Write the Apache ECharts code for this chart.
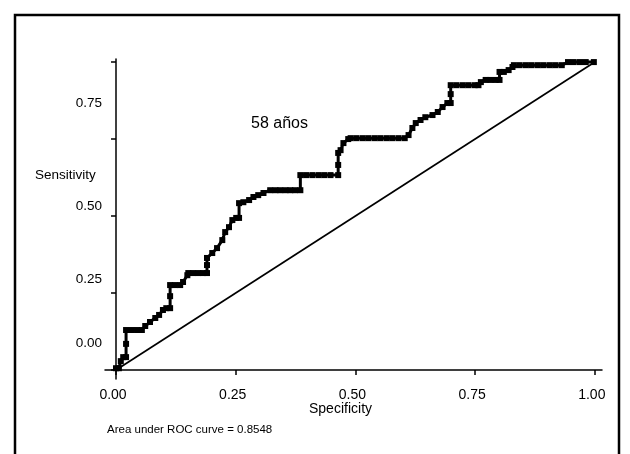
<!DOCTYPE html>
<html>
<head>
<meta charset="utf-8">
<script src="https://cdn.jsdelivr.net/npm/echarts@6/dist/echarts.min.js"></script>
<style>
  html, body {margin: 0; padding: 0; background: #fff;}
  #chart {width: 630px; height: 454px;}
</style>
</head>
<body>
<div id="chart"></div>
<script>
// ROC curve, 58 años
const rocSpec = [
    0.000, 0.006, 0.010, 0.015, 0.021, 0.021, 0.021, 0.033, 0.044, 0.054,
    0.061, 0.071, 0.082, 0.090, 0.098, 0.105, 0.113, 0.113, 0.113, 0.123,
    0.134, 0.140, 0.149, 0.151, 0.161, 0.172, 0.182, 0.190, 0.190, 0.190,
    0.201, 0.211, 0.222, 0.228, 0.236, 0.243, 0.251, 0.257, 0.257, 0.266,
    0.278, 0.287, 0.297, 0.308, 0.322, 0.333, 0.343, 0.354, 0.364, 0.374,
    0.385, 0.385, 0.397, 0.410, 0.423, 0.435, 0.448, 0.464, 0.464, 0.464,
    0.469, 0.475, 0.485, 0.490, 0.502, 0.515, 0.527, 0.540, 0.552, 0.565,
    0.577, 0.590, 0.603, 0.611, 0.619, 0.626, 0.636, 0.646, 0.661, 0.672,
    0.682, 0.692, 0.699, 0.699, 0.699, 0.711, 0.724, 0.736, 0.749, 0.757,
    0.762, 0.772, 0.782, 0.793, 0.801, 0.801, 0.810, 0.820, 0.828, 0.831,
    0.843, 0.856, 0.868, 0.881, 0.893, 0.906, 0.918, 0.931, 0.944, 0.956,
    0.969, 0.981, 0.998
];
const rocSens = [
    0.006, 0.006, 0.029, 0.042, 0.042, 0.085, 0.130, 0.130, 0.130, 0.130,
    0.143, 0.156, 0.169, 0.179, 0.195, 0.201, 0.201, 0.240, 0.276, 0.276,
    0.276, 0.286, 0.308, 0.315, 0.315, 0.315, 0.315, 0.315, 0.341, 0.364,
    0.380, 0.396, 0.422, 0.448, 0.464, 0.487, 0.494, 0.494, 0.542, 0.545,
    0.552, 0.562, 0.568, 0.575, 0.584, 0.584, 0.584, 0.584, 0.584, 0.584,
    0.584, 0.633, 0.633, 0.633, 0.633, 0.633, 0.633, 0.633, 0.666, 0.705,
    0.714, 0.737, 0.750, 0.753, 0.753, 0.753, 0.753, 0.753, 0.753, 0.753,
    0.753, 0.753, 0.753, 0.763, 0.786, 0.802, 0.812, 0.821, 0.828, 0.838,
    0.854, 0.867, 0.867, 0.896, 0.925, 0.925, 0.925, 0.925, 0.925, 0.925,
    0.935, 0.942, 0.942, 0.942, 0.942, 0.968, 0.968, 0.974, 0.984, 0.990,
    0.990, 0.990, 0.990, 0.990, 0.990, 0.990, 0.990, 0.990, 1.000, 1.000,
    1.000, 1.000, 1.000
];
const refLine = [[0, 0], [1, 1]];

const xTicks = [0, 0.25, 0.5, 0.75, 1];
const yTicks = [0, 0.25, 0.5, 0.75, 1];
// the y labels sit off their ticks in the original figure
const yLabelPos = [0.088, 0.295, 0.532, 0.867];
const yLabelText = ['0.00', '0.25', '0.50', '0.75'];

const font = 'Liberation Sans, Arial, sans-serif';

const chart = echarts.init(document.getElementById('chart'));
chart.setOption({
    animation: false,
    backgroundColor: '#fff',
    grid: {left: 105, right: 28, top: 59, bottom: 75},
    xAxis: {
        type: 'value',
        min: -0.023,
        max: 1.015,
        axisLine: {lineStyle: {color: '#000', width: 1.5}},
        axisTick: {customValues: xTicks, length: 5, lineStyle: {color: '#000', width: 1.5}},
        axisLabel: {
            customValues: xTicks,
            margin: 9,
            color: '#000',
            fontFamily: font,
            fontSize: 14,
            padding: [0, 6, 0, 0],
            formatter: v => v.toFixed(2)
        },
        splitLine: {show: false}
    },
    yAxis: {
        type: 'value',
        min: -0.029,
        max: 1.01,
        axisLine: {show: true, lineStyle: {color: '#000', width: 1.5}},
        axisTick: {show: true, customValues: yTicks, length: 5, lineStyle: {color: '#000', width: 1.5}},
        axisLabel: {
            customValues: yLabelPos,
            margin: 3,
            color: '#000',
            fontFamily: font,
            fontSize: 13.5,
            formatter: v => {
                const i = yLabelPos.findIndex(p => Math.abs(p - v) < 1e-6);
                return i >= 0 ? yLabelText[i] : '';
            }
        },
        splitLine: {show: false}
    },
    series: [
        {
            type: 'line',
            data: refLine,
            symbol: 'none',
            lineStyle: {color: '#000', width: 1.7},
            z: 2
        },
        {
            type: 'line',
            data: rocSpec.map((x, i) => [x, rocSens[i]]),
            symbol: 'rect',
            symbolSize: 6,
            itemStyle: {color: '#000'},
            lineStyle: {color: '#000', width: 3},
            z: 3
        }
    ],
    graphic: [
        {
            type: 'rect',
            shape: {x: 15, y: 15, width: 604, height: 460},
            style: {fill: 'none', stroke: '#000', lineWidth: 2.5},
            silent: true
        },
        {
            type: 'text', left: 35, top: 168,
            style: {text: 'Sensitivity', fill: '#000', font: '13.5px ' + font}
        },
        {
            type: 'text', left: 251, top: 116,
            style: {text: '58 años', fill: '#000', font: '16px ' + font}
        },
        {
            type: 'text', left: 309, top: 402,
            style: {text: 'Specificity', fill: '#000', font: '14px ' + font}
        },
        {
            type: 'text', left: 107, top: 424,
            style: {text: 'Area under ROC curve = 0.8548', fill: '#000', font: '11.5px ' + font}
        }
    ]
});
</script>
</body>
</html>
